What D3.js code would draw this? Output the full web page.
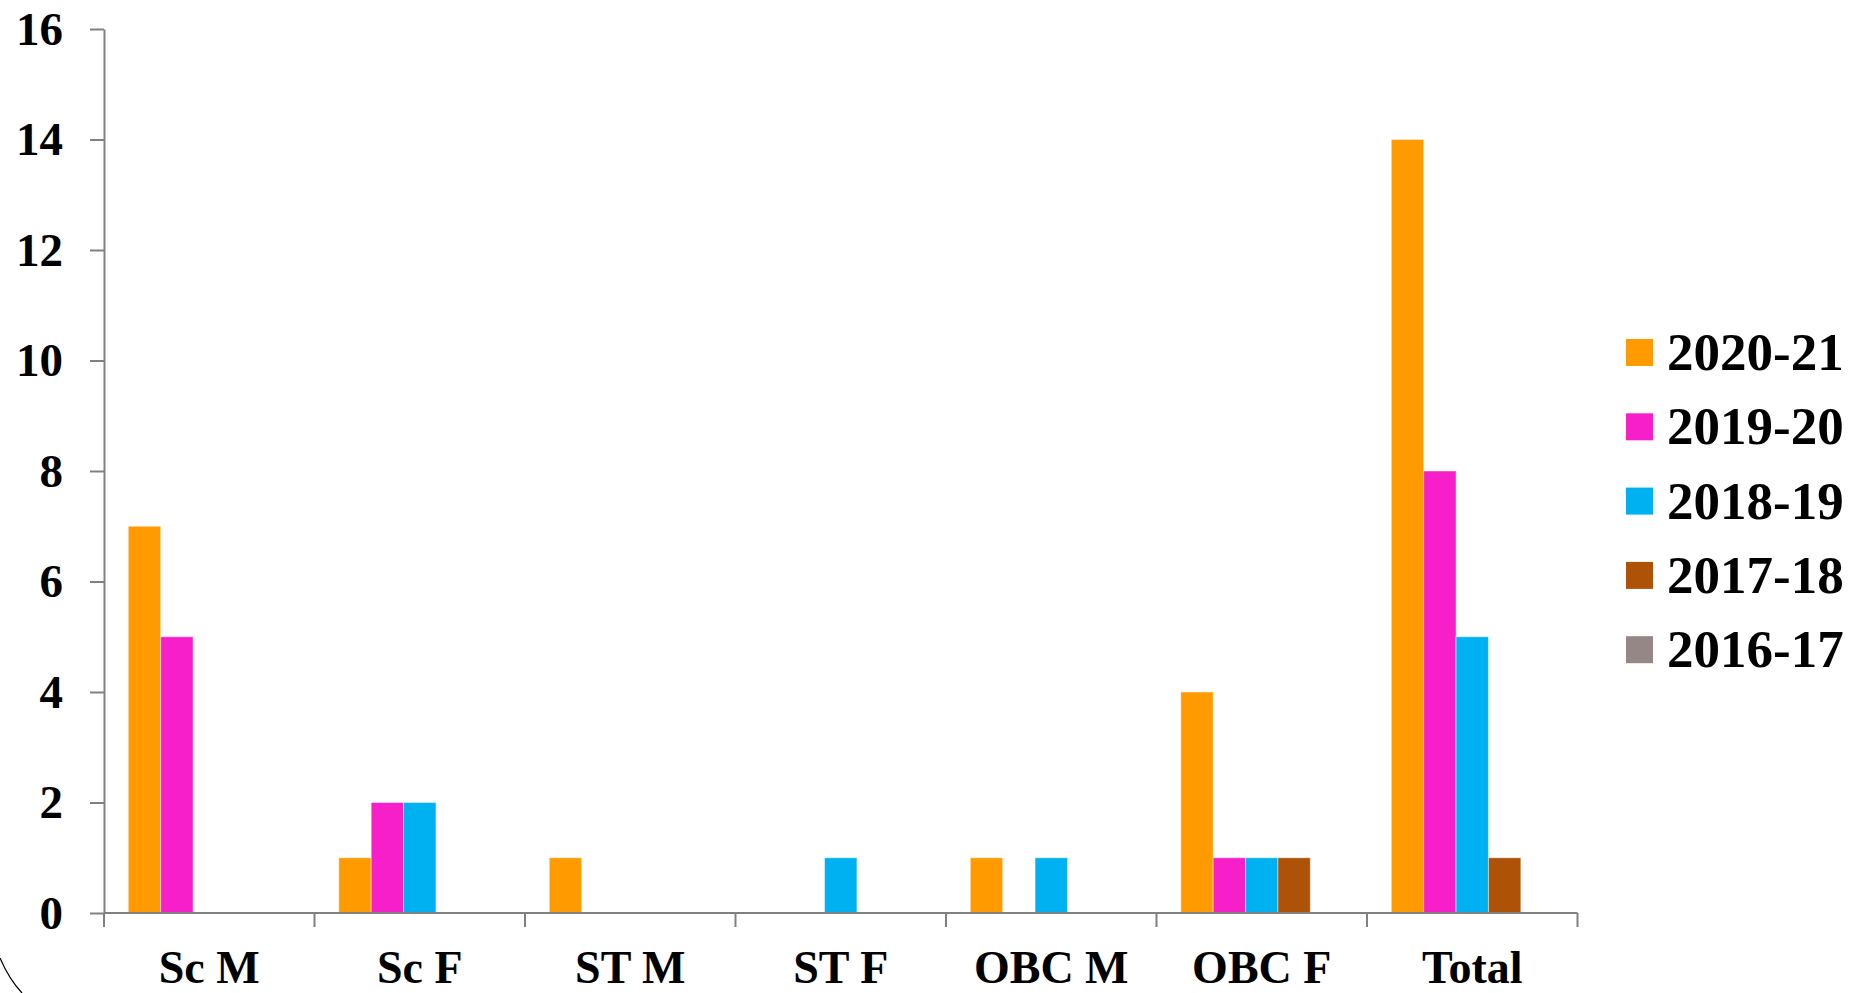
<!DOCTYPE html>
<html><head><meta charset="utf-8">
<script src="https://cdn.jsdelivr.net/npm/d3@7"></script>
<style>html,body{margin:0;padding:0;background:#fff;overflow:hidden}</style>
</head><body>
<svg id="chart" width="1858" height="993"></svg>
<script>
const categories = ["Sc M","Sc F","ST M","ST F","OBC M","OBC F","Total"];
const seriesNames = ["2020-21","2019-20","2018-19","2017-18","2016-17"];
const s2020 = [7,1,1,0,1,4,14];
const s2019 = [5,2,0,0,0,1,8];
const s2018 = [0,2,0,1,1,1,5];
const s2017 = [0,0,0,0,0,1,1];
const s2016 = [0,0,0,0,0,0,0];
const yTicks = [0,2,4,6,8,10,12,14,16];
const colors = ["#FF9A00","#F71FC9","#00B1F1","#AE5208","#948786"];

const allSeries = [s2020,s2019,s2018,s2017,s2016];
const svg = d3.select("#chart");
const font = "'Liberation Serif','Times New Roman',serif";
const axisColor = "#808080";

const x0 = d3.scaleBand().domain(categories).range([104,1577.5]).paddingInner(0).paddingOuter(0);
const x1 = d3.scaleBand().domain(seriesNames).range([0,x0.bandwidth()]).paddingInner(0).paddingOuter(0.75);
const y = d3.scaleLinear().domain([0,16]).range([913,29]);

// bars
const g = svg.append("g");
categories.forEach((c,ci)=>{
  seriesNames.forEach((s,si)=>{
    const v = allSeries[si][ci];
    if (v <= 0) return;
    g.append("rect")
      .attr("x", x0(c)+x1(s))
      .attr("y", y(v))
      .attr("width", x1.bandwidth())
      .attr("height", y(0)-y(v))
      .attr("fill", colors[si])
      .attr("stroke","rgba(255,255,255,0.45)")
      .attr("stroke-width",1);
  });
});

// y axis
const yAxis = d3.axisLeft(y).tickValues(yTicks).tickSize(14).tickSizeOuter(0).tickPadding(27).tickFormat(d3.format("d"));
const ya = svg.append("g").attr("transform","translate(104,0)").call(yAxis);
ya.select(".domain").attr("stroke",axisColor).attr("stroke-width",2);
ya.selectAll(".tick line").attr("stroke",axisColor).attr("stroke-width",2);
ya.selectAll(".tick text").attr("font-family",font).attr("font-weight","bold").attr("font-size",47).attr("fill","#000");

// x axis line
svg.append("line").attr("x1",104).attr("x2",x0.range()[1]).attr("y1",y(0)).attr("y2",y(0))
  .attr("stroke",axisColor).attr("stroke-width",2);
// x boundary ticks
const bounds = categories.map(c=>x0(c)).concat([x0.range()[1]]);
svg.selectAll(".xb").data(bounds).enter().append("line")
  .attr("x1",d=>d).attr("x2",d=>d).attr("y1",y(0)).attr("y2",y(0)+14)
  .attr("stroke",axisColor).attr("stroke-width",2);
// x labels
svg.selectAll(".xl").data(categories).enter().append("text")
  .attr("x",d=>x0(d)+x0.bandwidth()/2).attr("y",983)
  .attr("text-anchor","middle").attr("font-family",font).attr("font-weight","bold")
  .attr("font-size",46).attr("fill","#000").text(d=>d);

// legend
const lg = svg.append("g");
seriesNames.forEach((s,i)=>{
  const yy = 339 + i*74.3;
  lg.append("rect").attr("x",1626).attr("y",yy).attr("width",27).attr("height",27).attr("fill",colors[i]);
  lg.append("text").attr("x",1667).attr("y",yy+31).attr("font-family",font).attr("font-weight","bold")
    .attr("font-size",53).attr("fill","#000").text(s);
});

// corner arc fragment
svg.append("path").attr("d","M0,958 Q9,979 22,993").attr("fill","none").attr("stroke","#000").attr("stroke-width",1.2);
</script>
</body></html>
